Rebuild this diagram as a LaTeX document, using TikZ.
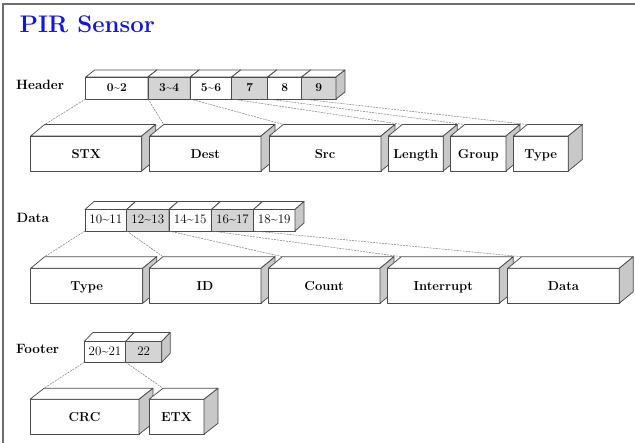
\documentclass[tikz,border=0pt]{standalone}
\usepackage{fontspec}
\usetikzlibrary{calc}
\definecolor{titleblue}{RGB}{20,20,225}
\definecolor{frontgray}{RGB}{212,212,212}
\definecolor{sidegray}{RGB}{200,200,200}
\definecolor{edgecol}{RGB}{75,75,75}
\definecolor{linkcol}{RGB}{120,120,120}
\definecolor{framecol}{RGB}{110,110,110}
\newcommand{\cubedx}{9}
\newcommand{\cubedy}{-7}
\newcommand{\cubefont}{\bfseries}
\newcommand{\cubeth}{10pt}
\newcommand{\cube}[7]{%
  \node[cubeface, fill=#6, minimum width={#3pt-#2pt}, minimum height={#5pt-#4pt}, text height=\cubeth, text depth=0pt, anchor=north west] (#1) at (#2,#4) {#7};
  \draw[cubeedge, fill=white] (#1.north west) -- ++(\cubedx,\cubedy) -- ([shift={(\cubedx,\cubedy)}]#1.north east) -- (#1.north east) -- cycle;
  \draw[cubeedge, fill=sidegray] (#1.north east) -- ++(\cubedx,\cubedy) -- ([shift={(\cubedx,\cubedy)}]#1.south east) -- (#1.south east) -- cycle;
  \coordinate (#1-bk) at ([shift={(\cubedx,\cubedy)}]#1.north west);
}
\begin{document}
\begin{tikzpicture}[x=1pt, y=-1pt,
  cubeedge/.style={draw=edgecol, line width=0.75pt, line join=round},
  cubeface/.style={cubeedge, rectangle, inner sep=0pt, outer sep=0pt, font=\cubefont},
  link/.style={draw=linkcol, line width=0.5pt, dash pattern=on 2pt off 1pt},
  rowlabel/.style={anchor=base west, inner sep=0pt, font=\fontsize{13.5}{15}\selectfont\bfseries}]
\useasboundingbox (0,0) rectangle (635,443);
\draw[framecol, line width=1.3pt] (3,443) -- (3,4) -- (635,4);
\node[anchor=base west, inner sep=0pt, text=titleblue, font=\fontsize{24}{27}\selectfont\bfseries] (title) at (19.5,33) {PIR Sensor};

% ---------- Header ----------
\node[rowlabel] (lh) at (16,90) {Header};
\renewcommand{\cubedx}{9}\renewcommand{\cubedy}{-7}
\renewcommand{\cubeth}{7.4pt}
\renewcommand{\cubefont}{\fontsize{12}{14}\selectfont\bfseries}
\cube{h1}{85.7}{148}{77}{99}{white}{0\textasciitilde2}
\cube{h2}{148}{190.3}{77}{99}{frontgray}{3\textasciitilde4}
\cube{h3}{190.3}{231.7}{77}{99}{white}{5\textasciitilde6}
\cube{h4}{231.7}{267.7}{77}{99}{frontgray}{7}
\cube{h5}{267.7}{301.7}{77}{99}{white}{8}
\cube{h6}{301.7}{336}{77}{99}{frontgray}{9}
\renewcommand{\cubedx}{14}\renewcommand{\cubedy}{-11.5}
\renewcommand{\cubeth}{10.5pt}
\renewcommand{\cubefont}{\fontsize{13}{15}\selectfont\bfseries}
\cube{H1}{30.7}{141.7}{136}{171}{white}{STX}
\cube{H2}{149.7}{261}{136}{171}{white}{Dest}
\cube{H3}{269.3}{381}{136}{171}{white}{Src}
\cube{H4}{388.3}{443.3}{136}{171}{white}{Length}
\cube{H5}{450.7}{506}{136}{171}{white}{Group}
\cube{H6}{513.3}{568.3}{136}{171}{white}{Type}
\foreach \i in {1,...,6}{\draw[link] (h\i.south west) -- (H\i-bk);}

% ---------- Data ----------
\node[rowlabel] (ld) at (16.5,223) {Data};
\renewcommand{\cubedx}{9}\renewcommand{\cubedy}{-8}
\renewcommand{\cubeth}{6.2pt}
\renewcommand{\cubefont}{\fontsize{13}{15}\selectfont}
\cube{d1}{85}{126.7}{209.5}{231}{white}{10\textasciitilde11}
\cube{d2}{126.7}{169}{209.5}{231}{frontgray}{12\textasciitilde13}
\cube{d3}{169}{211.5}{209.5}{231}{white}{14\textasciitilde15}
\cube{d4}{211.5}{253.5}{209.5}{231}{frontgray}{16\textasciitilde17}
\cube{d5}{253.5}{295}{209.5}{231}{white}{18\textasciitilde19}
\renewcommand{\cubedx}{14}\renewcommand{\cubedy}{-11.6}
\renewcommand{\cubeth}{9pt}
\renewcommand{\cubefont}{\fontsize{13}{15}\selectfont\bfseries}
\cube{D1}{30.7}{142.7}{268.3}{303.3}{white}{Type}
\cube{D2}{149}{261}{268.3}{303.3}{white}{ID}
\cube{D3}{268.3}{380}{268.3}{303.3}{white}{Count}
\cube{D4}{387.3}{499.3}{268.3}{303.3}{white}{Interrupt}
\cube{D5}{507.7}{619.3}{268.3}{303.3}{white}{Data}
\foreach \i in {1,...,5}{\draw[link] (d\i.south west) -- (D\i-bk);}

% ---------- Footer ----------
\node[rowlabel] (lf) at (16,354) {Footer};
\renewcommand{\cubedx}{8.5}\renewcommand{\cubedy}{-9}
\renewcommand{\cubeth}{6.5pt}
\renewcommand{\cubefont}{\fontsize{13}{15}\selectfont}
\cube{f1}{84.3}{125.7}{341.5}{362.3}{white}{20\textasciitilde21}
\cube{f2}{125.7}{161.7}{341.5}{362.3}{frontgray}{22}
\renewcommand{\cubedx}{14}\renewcommand{\cubedy}{-11}
\renewcommand{\cubeth}{10pt}
\renewcommand{\cubefont}{\fontsize{13}{15}\selectfont\bfseries}
\cube{F1}{30}{139}{399.3}{434.3}{white}{CRC}
\cube{F2}{149}{204}{399.3}{434.3}{white}{ETX}
\foreach \i in {1,2}{\draw[link] (f\i.south west) -- (F\i-bk);}
\end{tikzpicture}
\end{document}
